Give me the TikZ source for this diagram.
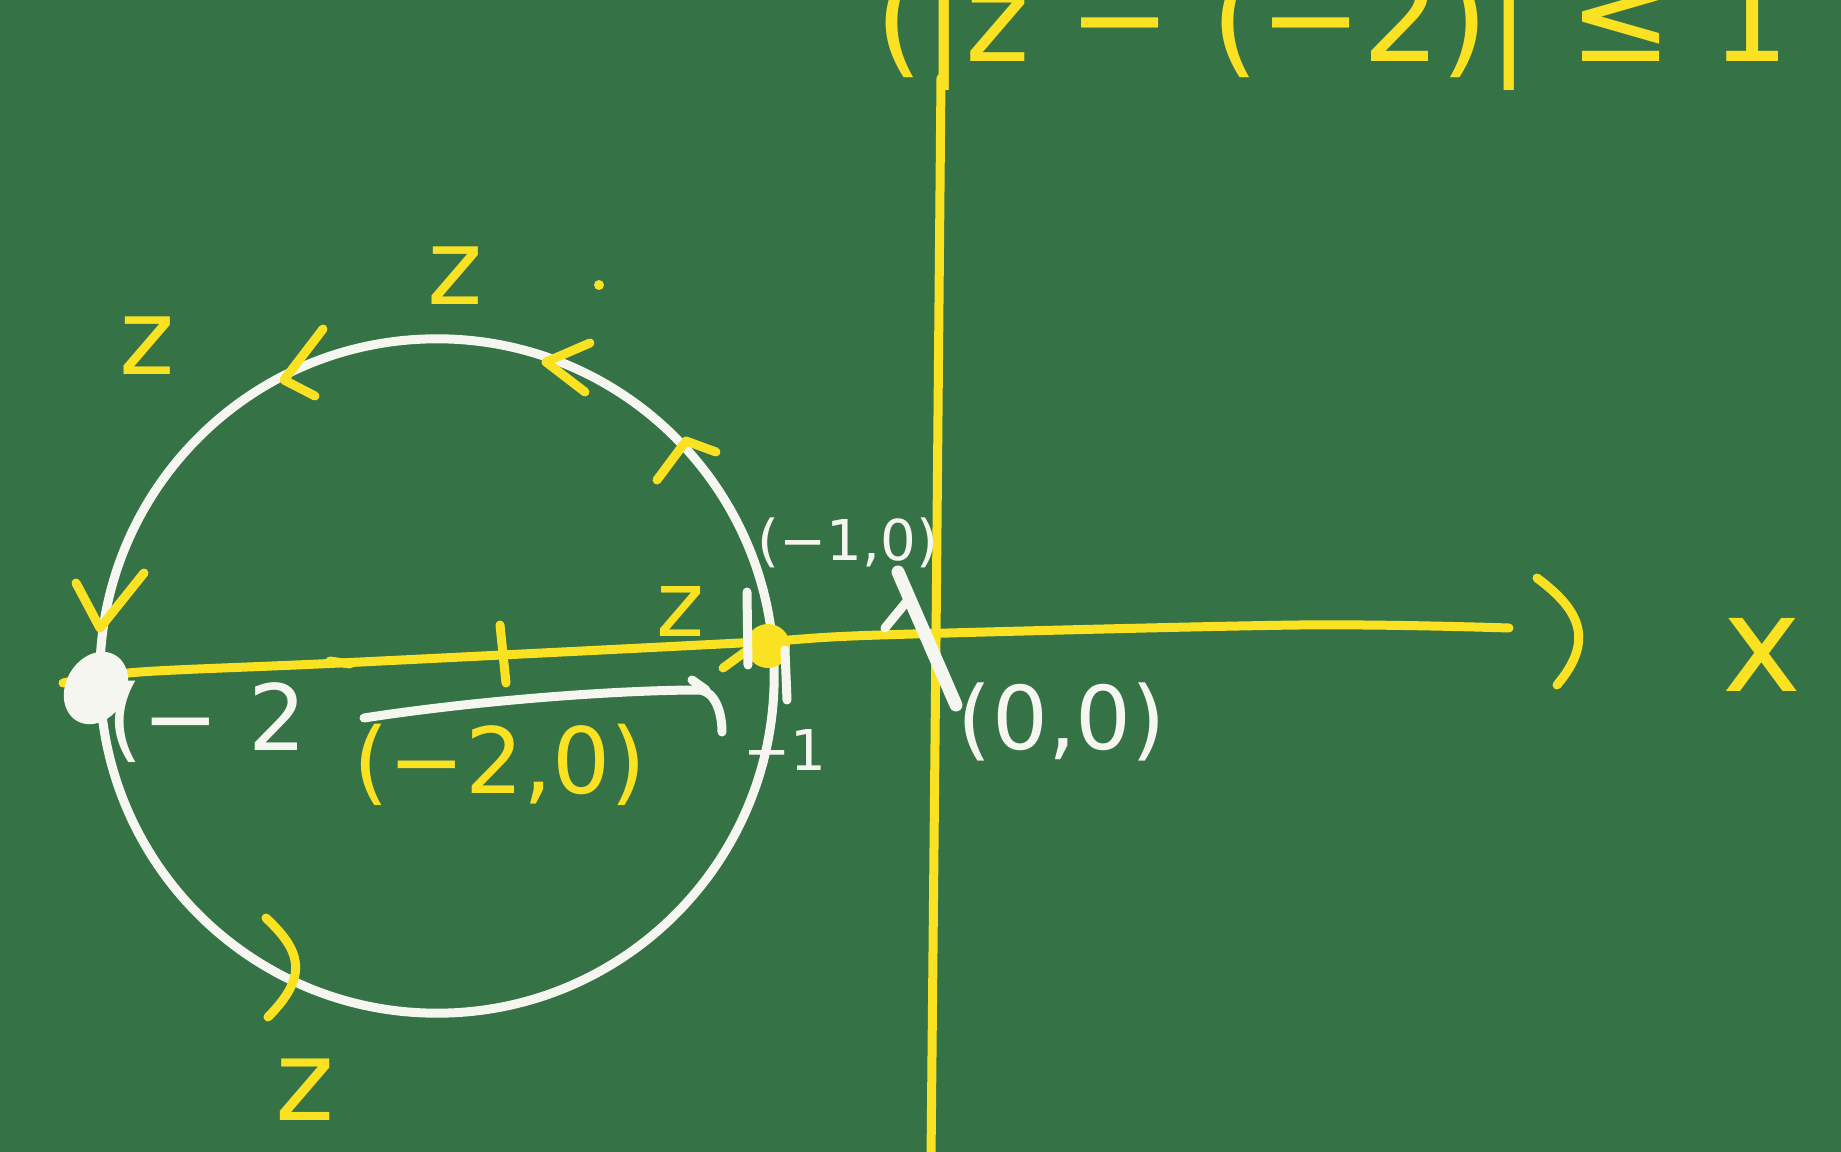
\documentclass[tikz,border=0pt]{standalone}
\usepackage{fontspec}
\setmainfont{DejaVu Sans}
\definecolor{board}{RGB}{53,114,70}
\definecolor{chalkY}{RGB}{250,226,35}
\definecolor{chalkW}{RGB}{246,246,240}
\begin{document}
\begin{tikzpicture}[x=0.01cm,y=-0.01cm,
  ylw/.style={draw=chalkY,line width=0.09cm,line cap=round,line join=round},
  wht/.style={draw=chalkW,line width=0.09cm,line cap=round,line join=round},
  ytxt/.style={text=chalkY,inner sep=0pt},
  wtxt/.style={text=chalkW,inner sep=0pt}]
\fill[board] (0,0) rectangle (1841,1152);
\useasboundingbox (0,0) rectangle (1841,1152);
\clip (0,0) rectangle (1841,1152);
% circle |z-(-2)| = 1
\coordinate (c) at (437,676);
\draw[wht] (c) circle[radius=3.37cm];
% axes
\draw[ylw] plot[smooth] coordinates {(63,683) (140,672) (340,663) (740,643) (880,635) (1300,625) (1509,628)};
\draw[ylw] (941,78) -- (936,640) -- (931,1160);
\draw[ylw] (1537,578) .. controls (1580,610) and (1595,640) .. (1557,685);
% ticks and point (-1,0)
\draw[ylw] (500,625) -- (506,683);
\draw[ylw] (330,661) -- (350,664);
\fill[chalkY] (768,646) circle[radius=0.22cm];
\draw[ylw] (723,668) -- (745,652);
% direction marks
\draw[ylw] (323,329) -- (284,380) -- (315,396);
\draw[ylw] (590,343) -- (546,362) -- (585,392);
\fill[chalkY] (599,285) circle[radius=0.05cm];
\draw[ylw] (657,480) -- (686,441) -- (716,452);
\draw[ylw] (76,583) -- (100,628) -- (144,573);
\draw[ylw] (266,918) .. controls (300,950) and (310,975) .. (268,1017);
% white marks
\draw[wht] (364,718) .. controls (480,700) and (620,690) .. (700,690) .. controls (715,692) and (722,712) .. (722,732);
\draw[wht] (692,680) -- (706,690);
\draw[wht] (747,592) -- (748,665);
\draw[wht] (785,650) -- (787,700);
\draw[wht, line width=0.13cm] (898,572) -- (956,705);
\draw[wht] (885,628) -- (908,600);
\fill[chalkW, rotate around={-30:(96,688)}] (96,688) ellipse[x radius=0.3cm, y radius=0.38cm];
% labels
\node[ytxt, font=\fontsize{35}{35}\selectfont, anchor=base west] (formula) at (875,62) {(|z − (−2)| ≤ 1};
\node[ytxt, font=\fontsize{38}{38}\selectfont] (xlab) at (1762,655) {x};
\node[ytxt, font=\fontsize{30}{30}\selectfont] (z1) at (147,346) {z};
\node[ytxt, font=\fontsize{30}{30}\selectfont] (z2) at (455,276) {z};
\node[ytxt, font=\fontsize{32}{32}\selectfont] (z3) at (305,1090) {z};
\node[ytxt, font=\fontsize{26}{26}\selectfont] (z4) at (680,612) {z};
\node[ytxt, font=\fontsize{26}{26}\selectfont] (cen) at (500,765) {(−2,0)};
\node[wtxt, font=\fontsize{26}{26}\selectfont] (m2) at (207,722) {(− 2};
\node[wtxt, font=\fontsize{16}{16}\selectfont] (m1) at (785,750) {−1};
\node[wtxt, font=\fontsize{16}{16}\selectfont] (pm1) at (848,543) {(−1,0)};
\node[wtxt, font=\fontsize{25}{25}\selectfont] (orig) at (1062,722) {(0,0)};
\end{tikzpicture}
\end{document}
